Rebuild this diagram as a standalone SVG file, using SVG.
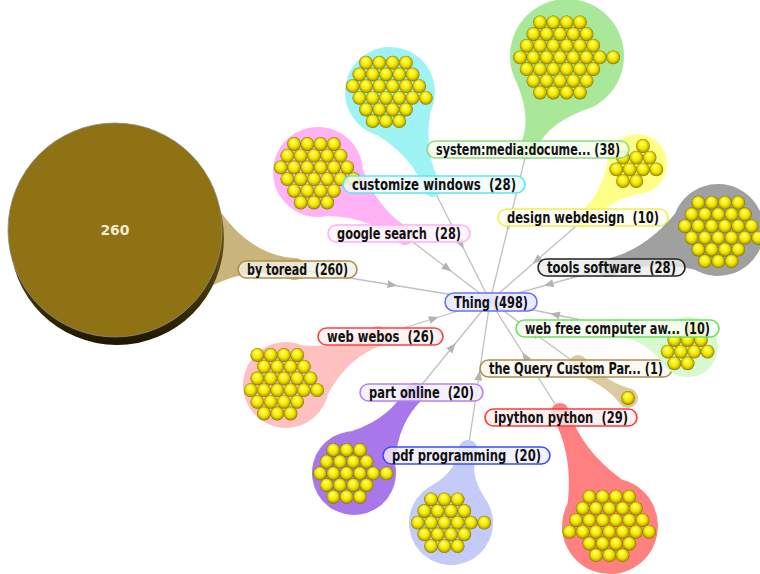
<svg xmlns="http://www.w3.org/2000/svg" xmlns:xlink="http://www.w3.org/1999/xlink" width="760" height="574" viewBox="0 0 760 574">
<style>
.lbl rect { stroke-width: 1.6; fill-opacity: 0.8; }
.lbl text { font-family: "DejaVu Sans Condensed", "DejaVu Sans", sans-serif; font-weight: bold; font-size: 15px; fill: #111; text-anchor: middle; white-space: pre; }
.edge { fill: none; stroke: #c0c0c0; stroke-width: 1.3; marker-mid: url(#arr); }
</style>
<defs>
<radialGradient id="ballg" cx="0.5" cy="0.5" r="0.5" fx="0.42" fy="0.27">
<stop offset="0" stop-color="#ffffe6"/>
<stop offset="0.15" stop-color="#ffff48"/>
<stop offset="0.62" stop-color="#f2e600"/>
<stop offset="0.88" stop-color="#bcab00"/>
<stop offset="1" stop-color="#776a00"/>
</radialGradient>
<linearGradient id="disc" x1="0" y1="0" x2="0" y2="1">
<stop offset="0.5" stop-color="#6a5410"/>
<stop offset="1" stop-color="#1e1702"/>
</linearGradient>
<marker id="arr" viewBox="0 0 10 8" refX="5" refY="4" markerWidth="10" markerHeight="8" markerUnits="userSpaceOnUse" orient="auto">
<path d="M0,0 L10,4 L0,8 Z" fill="#b4b4b4"/>
</marker>
<circle id="b" r="6.9" fill="url(#ballg)"/>
<g id="p28">
<use href="#b" x="0" y="0"/><use href="#b" x="13.3" y="0"/><use href="#b" x="26.6" y="0"/><use href="#b" x="39.9" y="0"/>
<use href="#b" x="-6.65" y="11.7"/><use href="#b" x="6.65" y="11.7"/><use href="#b" x="19.95" y="11.7"/><use href="#b" x="33.25" y="11.7"/><use href="#b" x="46.55" y="11.7"/>
<use href="#b" x="-13.3" y="23.4"/><use href="#b" x="0" y="23.4"/><use href="#b" x="13.3" y="23.4"/><use href="#b" x="26.6" y="23.4"/><use href="#b" x="39.9" y="23.4"/><use href="#b" x="53.2" y="23.4"/>
<use href="#b" x="-6.65" y="35.1"/><use href="#b" x="6.65" y="35.1"/><use href="#b" x="19.95" y="35.1"/><use href="#b" x="33.25" y="35.1"/><use href="#b" x="46.55" y="35.1"/><use href="#b" x="59.85" y="35.1"/>
<use href="#b" x="0" y="46.8"/><use href="#b" x="13.3" y="46.8"/><use href="#b" x="26.6" y="46.8"/><use href="#b" x="39.9" y="46.8"/>
<use href="#b" x="6.65" y="58.5"/><use href="#b" x="19.95" y="58.5"/><use href="#b" x="33.25" y="58.5"/>
</g>
<g id="p20">
<use href="#b" x="0" y="0"/><use href="#b" x="13.3" y="0"/><use href="#b" x="26.6" y="0"/>
<use href="#b" x="-6.65" y="11.7"/><use href="#b" x="6.65" y="11.7"/><use href="#b" x="19.95" y="11.7"/><use href="#b" x="33.25" y="11.7"/>
<use href="#b" x="-13.3" y="23.4"/><use href="#b" x="0" y="23.4"/><use href="#b" x="13.3" y="23.4"/><use href="#b" x="26.6" y="23.4"/><use href="#b" x="39.9" y="23.4"/><use href="#b" x="53.2" y="23.4"/>
<use href="#b" x="-6.65" y="35.1"/><use href="#b" x="6.65" y="35.1"/><use href="#b" x="19.95" y="35.1"/><use href="#b" x="33.25" y="35.1"/>
<use href="#b" x="0" y="46.8"/><use href="#b" x="13.3" y="46.8"/><use href="#b" x="26.6" y="46.8"/>
</g>
</defs>

<g id="edges">
<polyline class="edge" points="295,269 392.5,285 490,301"/>
<polyline class="edge" points="405,236 447.5,268.5 490,301"/>
<polyline class="edge" points="433,188 461.5,244.5 490,301"/>
<polyline class="edge" points="527,150 508.5,225.5 490,301"/>
<polyline class="edge" points="583,220 536.5,260.5 490,301"/>
<polyline class="edge" points="607,268 548.5,284.5 490,301"/>
<polyline class="edge" points="620,328 555,314.5 490,301"/>
<polyline class="edge" points="578,365 534,333 490,301"/>
<polyline class="edge" points="560,412 525,356.5 490,301"/>
<polyline class="edge" points="468,450 479,375.5 490,301"/>
<polyline class="edge" points="415,393 452.5,347 490,301"/>
<polyline class="edge" points="378,336 434,318.5 490,301"/>
</g>

<g id="node-toread">
<g transform="translate(115,230) rotate(12.2)" fill="#c9b57c">
<circle cx="184.2" r="11"/>
<path d="M99.2,40.1 Q140,3 184.2,11 L184.2,-11 Q140,-3 99.2,-40.1 Z"/>
</g>
<circle cx="117" cy="238" r="107" fill="url(#disc)"/>
<circle cx="115" cy="230" r="107" fill="#8e7213" stroke="#8c8c8c" stroke-width="0.8"/>
<text x="115" y="235" style="font-family:'DejaVu Sans',sans-serif;font-weight:bold;font-size:14px;fill:#f2ead2;text-anchor:middle">260</text>
<g class="lbl"><rect x="238" y="261" width="119" height="17" rx="8.5" fill="#f4f0e4" stroke="#a8904c"/><text x="297.5" y="275" textLength="101" lengthAdjust="spacingAndGlyphs">by toread  (260)</text></g>
</g>

<g id="node-google">
<g transform="translate(318,172) rotate(36.3)" fill="#ffb3f5">
<circle r="45"/><circle cx="108" r="9"/>
<path d="M34.5,28.9 Q72,4 108,9 L108,-9 Q72,-4 34.5,-28.9 Z"/>
</g>
<use href="#p28" x="294" y="144"/>
<g class="lbl"><rect x="328" y="225" width="142" height="17" rx="8.5" fill="#fff2fd" stroke="#ffb0f4"/><text x="399" y="239" textLength="124" lengthAdjust="spacingAndGlyphs">google search  (28)</text></g>
</g>

<g id="node-customize">
<g transform="translate(390,92) rotate(65.9)" fill="#9ef4f4">
<circle r="45"/><circle cx="105.2" r="9"/>
<path d="M34.5,28.9 Q70.6,5 105.2,9 L105.2,-9 Q70.6,-5 34.5,-28.9 Z"/>
</g>
<use href="#p28" x="366" y="62.7"/>
<g class="lbl"><rect x="343" y="176" width="182" height="17" rx="8.5" fill="#effdfd" stroke="#5ee6ee"/><text x="434" y="190" textLength="164" lengthAdjust="spacingAndGlyphs">customize windows  (28)</text></g>
</g>

<g id="node-design">
<g transform="translate(637,164) rotate(134)" fill="#ffff88">
<circle r="30"/><circle cx="77.8" r="8"/>
<path d="M21.2,21.2 Q50,3 77.8,8 L77.8,-8 Q50,-3 21.2,-21.2 Z"/>
</g>
<use href="#b" x="642.95" y="146"/>
<use href="#b" x="623" y="157.7"/><use href="#b" x="636.3" y="157.7"/><use href="#b" x="649.6" y="157.7"/>
<use href="#b" x="616.35" y="169.4"/><use href="#b" x="629.65" y="169.4"/><use href="#b" x="642.95" y="169.4"/><use href="#b" x="656.25" y="169.4"/>
<use href="#b" x="623" y="181.1"/><use href="#b" x="636.3" y="181.1"/>
<g class="lbl"><rect x="498" y="209" width="170" height="17" rx="8.5" fill="#fffff0" stroke="#f0ee50"/><text x="583" y="223" textLength="152" lengthAdjust="spacingAndGlyphs">design webdesign  (10)</text></g>
</g>

<g id="node-system">
<g transform="translate(567,56) rotate(113)" fill="#a8e898">
<circle r="57"/><circle cx="102.2" r="9"/>
<path d="M44.9,35.1 Q75,5 102.2,9 L102.2,-9 Q75,-5 44.9,-35.1 Z"/>
</g>
<g transform="translate(540,22.3)">
<use href="#b" x="0" y="0"/><use href="#b" x="13.3" y="0"/><use href="#b" x="26.6" y="0"/><use href="#b" x="39.9" y="0"/>
<use href="#b" x="-6.65" y="11.7"/><use href="#b" x="6.65" y="11.7"/><use href="#b" x="19.95" y="11.7"/><use href="#b" x="33.25" y="11.7"/><use href="#b" x="46.55" y="11.7"/>
<use href="#b" x="-13.3" y="23.4"/><use href="#b" x="0" y="23.4"/><use href="#b" x="13.3" y="23.4"/><use href="#b" x="26.6" y="23.4"/><use href="#b" x="39.9" y="23.4"/><use href="#b" x="53.2" y="23.4"/>
<use href="#b" x="-19.95" y="35.1"/><use href="#b" x="-6.65" y="35.1"/><use href="#b" x="6.65" y="35.1"/><use href="#b" x="19.95" y="35.1"/><use href="#b" x="33.25" y="35.1"/><use href="#b" x="46.55" y="35.1"/><use href="#b" x="59.85" y="35.1"/><use href="#b" x="73.15" y="35.1"/>
<use href="#b" x="-13.3" y="46.8"/><use href="#b" x="0" y="46.8"/><use href="#b" x="13.3" y="46.8"/><use href="#b" x="26.6" y="46.8"/><use href="#b" x="39.9" y="46.8"/><use href="#b" x="53.2" y="46.8"/>
<use href="#b" x="-6.65" y="58.5"/><use href="#b" x="6.65" y="58.5"/><use href="#b" x="19.95" y="58.5"/><use href="#b" x="33.25" y="58.5"/><use href="#b" x="46.55" y="58.5"/>
<use href="#b" x="0" y="70.2"/><use href="#b" x="13.3" y="70.2"/><use href="#b" x="26.6" y="70.2"/><use href="#b" x="39.9" y="70.2"/>
</g>
<g class="lbl"><rect x="427" y="141" width="202" height="17" rx="8.5" fill="#f2fcef" stroke="#8cdc7c"/><text x="528" y="155" textLength="184" lengthAdjust="spacingAndGlyphs">system:media:docume... (38)</text></g>
</g>

<g id="node-tools">
<g transform="translate(718,230) rotate(161.1)" fill="#a0a0a0">
<circle r="46"/><circle cx="117.3" r="9"/>
<path d="M35.2,29.6 Q77,4 117.3,9 L117.3,-9 Q77,-4 35.2,-29.6 Z"/>
</g>
<use href="#p28" x="698.3" y="202.7"/>
<g class="lbl"><rect x="538" y="259" width="147" height="17" rx="8.5" fill="#ececec" stroke="#222222"/><text x="611.5" y="273" textLength="129" lengthAdjust="spacingAndGlyphs">tools software  (28)</text></g>
</g>

<g id="node-webos">
<g transform="translate(286,385) rotate(-28)" fill="#ffc0c0">
<circle r="43"/><circle cx="104.2" r="10"/>
<path d="M32.9,27.6 Q68.6,4 104.2,10 L104.2,-10 Q68.6,-4 32.9,-27.6 Z"/>
</g>
<g transform="translate(257.3,355)">
<use href="#b" x="0" y="0"/><use href="#b" x="13.3" y="0"/><use href="#b" x="26.6" y="0"/><use href="#b" x="39.9" y="0"/>
<use href="#b" x="6.65" y="11.7"/><use href="#b" x="19.95" y="11.7"/><use href="#b" x="33.25" y="11.7"/><use href="#b" x="46.55" y="11.7"/>
<use href="#b" x="0" y="23.4"/><use href="#b" x="13.3" y="23.4"/><use href="#b" x="26.6" y="23.4"/><use href="#b" x="39.9" y="23.4"/><use href="#b" x="53.2" y="23.4"/>
<use href="#b" x="-6.65" y="35.1"/><use href="#b" x="6.65" y="35.1"/><use href="#b" x="19.95" y="35.1"/><use href="#b" x="33.25" y="35.1"/><use href="#b" x="46.55" y="35.1"/><use href="#b" x="59.85" y="35.1"/>
<use href="#b" x="0" y="46.8"/><use href="#b" x="13.3" y="46.8"/><use href="#b" x="26.6" y="46.8"/><use href="#b" x="39.9" y="46.8"/>
<use href="#b" x="6.65" y="58.5"/><use href="#b" x="19.95" y="58.5"/><use href="#b" x="33.25" y="58.5"/>
</g>
<g class="lbl"><rect x="318" y="328" width="125" height="17" rx="8.5" fill="#fff0f0" stroke="#ff4040"/><text x="380.5" y="342" textLength="107" lengthAdjust="spacingAndGlyphs">web webos  (26)</text></g>
</g>

<g id="node-part">
<g transform="translate(354,473) rotate(-52.7)" fill="#a878ea">
<circle r="42"/><circle cx="100.6" r="10"/>
<path d="M32.2,27 Q66.3,4 100.6,10 L100.6,-10 Q66.3,-4 32.2,-27 Z"/>
</g>
<use href="#p20" x="333.3" y="450"/>
<g class="lbl"><rect x="360" y="384" width="123" height="17" rx="8.5" fill="#f4eefe" stroke="#b283f0"/><text x="421.5" y="398" textLength="105" lengthAdjust="spacingAndGlyphs">part online  (20)</text></g>
</g>

<g id="node-pdf">
<g transform="translate(451,523) rotate(-76.9)" fill="#c4cbf8">
<circle r="42"/><circle cx="75" r="10"/>
<path d="M32.2,27 Q53.5,5 75,10 L75,-10 Q53.5,-5 32.2,-27 Z"/>
</g>
<use href="#p20" x="431" y="499.3"/>
<g class="lbl"><rect x="383" y="447" width="167" height="17" rx="8.5" fill="#f0f0ff" stroke="#3c4cf0"/><text x="466.5" y="461" textLength="149" lengthAdjust="spacingAndGlyphs">pdf programming  (20)</text></g>
</g>

<g id="node-ipython">
<g transform="translate(610,526) rotate(-113.7)" fill="#ff8080">
<circle r="48"/><circle cx="124.5" r="9"/>
<path d="M37.8,29.6 Q81.8,4 124.5,9 L124.5,-9 Q81.8,-4 37.8,-29.6 Z"/>
</g>
<g transform="translate(589.3,496.7)">
<use href="#b" x="0" y="0"/><use href="#b" x="13.3" y="0"/><use href="#b" x="26.6" y="0"/><use href="#b" x="39.9" y="0"/>
<use href="#b" x="-6.65" y="11.7"/><use href="#b" x="6.65" y="11.7"/><use href="#b" x="19.95" y="11.7"/><use href="#b" x="33.25" y="11.7"/><use href="#b" x="46.55" y="11.7"/>
<use href="#b" x="-13.3" y="23.4"/><use href="#b" x="0" y="23.4"/><use href="#b" x="13.3" y="23.4"/><use href="#b" x="26.6" y="23.4"/><use href="#b" x="39.9" y="23.4"/><use href="#b" x="53.2" y="23.4"/>
<use href="#b" x="-19.95" y="35.1"/><use href="#b" x="-6.65" y="35.1"/><use href="#b" x="6.65" y="35.1"/><use href="#b" x="19.95" y="35.1"/><use href="#b" x="33.25" y="35.1"/><use href="#b" x="46.55" y="35.1"/><use href="#b" x="59.85" y="35.1"/>
<use href="#b" x="0" y="46.8"/><use href="#b" x="13.3" y="46.8"/><use href="#b" x="26.6" y="46.8"/><use href="#b" x="39.9" y="46.8"/>
<use href="#b" x="6.65" y="58.5"/><use href="#b" x="19.95" y="58.5"/><use href="#b" x="33.25" y="58.5"/>
</g>
<g class="lbl"><rect x="485" y="409" width="152" height="17" rx="8.5" fill="#ffeeee" stroke="#ff3838"/><text x="561" y="423" textLength="134" lengthAdjust="spacingAndGlyphs">ipython python  (29)</text></g>
</g>

<g id="node-query">
<g transform="translate(628,398) rotate(213.4)" fill="#dccba0">
<circle r="10"/><circle cx="59.9" r="10"/>
<path d="M5,8.6 Q30.5,1 59.9,10 L59.9,-10 Q30.5,-1 5,-8.6 Z"/>
</g>
<use href="#b" x="628" y="398"/>
<g class="lbl"><rect x="480" y="360" width="192" height="17" rx="8.5" fill="#fbf8f0" stroke="#a89050"/><text x="576" y="374" textLength="174" lengthAdjust="spacingAndGlyphs">the Query Custom Par... (1)</text></g>
</g>

<g id="node-webfree">
<g transform="translate(688,347) rotate(195.6)" fill="#d8f8d0">
<circle r="30"/><circle cx="70.6" r="9"/>
<path d="M21.2,21.2 Q45.8,4 70.6,9 L70.6,-9 Q45.8,-4 21.2,-21.2 Z"/>
</g>
<use href="#b" x="694.25" y="328.3"/>
<use href="#b" x="674.3" y="340"/><use href="#b" x="687.6" y="340"/><use href="#b" x="700.9" y="340"/>
<use href="#b" x="667.65" y="351.7"/><use href="#b" x="680.95" y="351.7"/><use href="#b" x="694.25" y="351.7"/><use href="#b" x="707.55" y="351.7"/>
<use href="#b" x="674.3" y="363.4"/><use href="#b" x="687.6" y="363.4"/>
<g class="lbl"><rect x="516" y="320" width="203" height="17" rx="8.5" fill="#f6fff3" stroke="#6ee05a"/><text x="617.5" y="334" textLength="185" lengthAdjust="spacingAndGlyphs">web free computer aw... (10)</text></g>
</g>

<g id="node-thing">
<g class="lbl"><rect x="445" y="293" width="92" height="18" rx="9" fill="#e6e8ff" stroke="#6a70f8"/><text x="491" y="307.5" textLength="74" lengthAdjust="spacingAndGlyphs">Thing (498)</text></g>
</g>
</svg>
